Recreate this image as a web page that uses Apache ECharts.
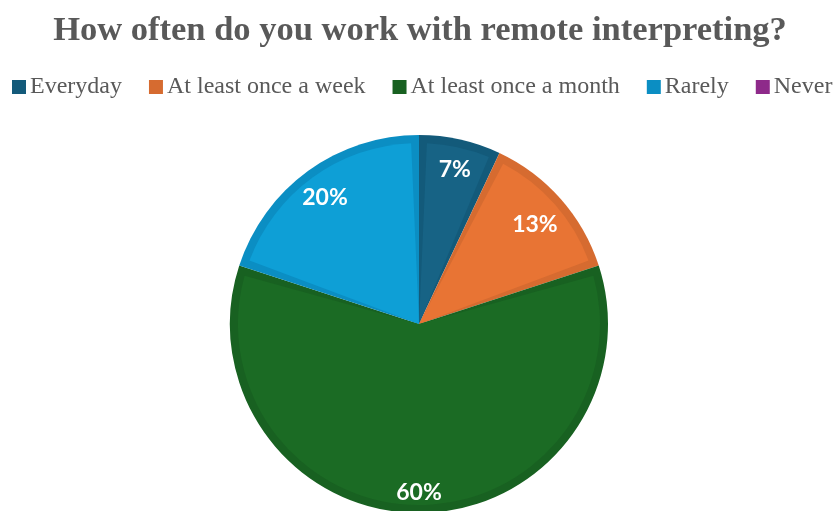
<!DOCTYPE html>
<html><head><meta charset="utf-8">
<script src="https://cdn.jsdelivr.net/npm/echarts@6/dist/echarts.min.js"></script>
<style>html,body{margin:0;padding:0;background:#fff}#c{width:840px;height:511px}</style>
</head><body><div id="c"></div>
<script>
const categories = ['Everyday', 'At least once a week', 'At least once a month', 'Rarely', 'Never'];
const values = [7, 13, 60, 20, 0];
const edgeColors = ['#135a7a', '#d66b30', '#186121', '#0b8ec3', '#8e2a8a'];
const fillColors = ['#176385', '#e87434', '#1b6b24', '#0e9fd6', '#9a2f96'];
const labelNudge = [[1, 2], [-4, 6], [0, 9], [0, 3]];

const R = 189;
const center = [419, 324];
const chart = echarts.init(document.getElementById('c'));
const base = categories.map((n, i) => ({ name: n, value: values[i] }));
chart.setOption({
  animation: false,
  title: {
    text: 'How often do you work with remote interpreting?',
    left: 'center', top: 9,
    textStyle: { fontFamily: 'Liberation Serif', fontWeight: 'bold', fontSize: 34.5, color: '#595959' }
  },
  legend: {
    data: categories,
    left: 12, top: 75, width: 828, padding: 0,
    itemWidth: 14, itemHeight: 14, itemGap: 27,
    icon: 'rect',
    textStyle: { fontFamily: 'Liberation Serif', fontSize: 24, color: '#595959', padding: [0, 0, 0, -1] }
  },
  series: [
    {
      type: 'pie', center: center, radius: [0, R], startAngle: 90, clockwise: true,
      label: { show: false }, labelLine: { show: false }, silent: true,
      data: base.map((d, i) => ({ ...d, itemStyle: { color: edgeColors[i], borderWidth: 0 } }))
    },
    {
      type: 'pie', center: center, radius: [0, R - 8], startAngle: 90, clockwise: true, padAngle: 5,
      label: { show: false }, labelLine: { show: false }, silent: true, legendHoverLink: false,
      data: base.filter(d => d.value > 0).map((d) => ({ ...d, itemStyle: { color: fillColors[categories.indexOf(d.name)] } }))
    },
    {
      type: 'pie', center: center, radius: [R * 0.66, R], startAngle: 90, clockwise: true,
      silent: true, percentPrecision: 0,
      itemStyle: { color: 'rgba(0,0,0,0)' },
      label: { show: true, position: 'inner', formatter: '{d}%', color: '#fff',
               fontFamily: 'Lato', fontWeight: 'bold', fontSize: 23 },
      labelLine: { show: false },
      labelLayout: function (p) {
        const n = labelNudge[p.dataIndex] || [0, 0];
        return { dx: n[0], dy: n[1] };
      },
      data: base.filter(d => d.value > 0)
    }
  ]
});
</script></body></html>
